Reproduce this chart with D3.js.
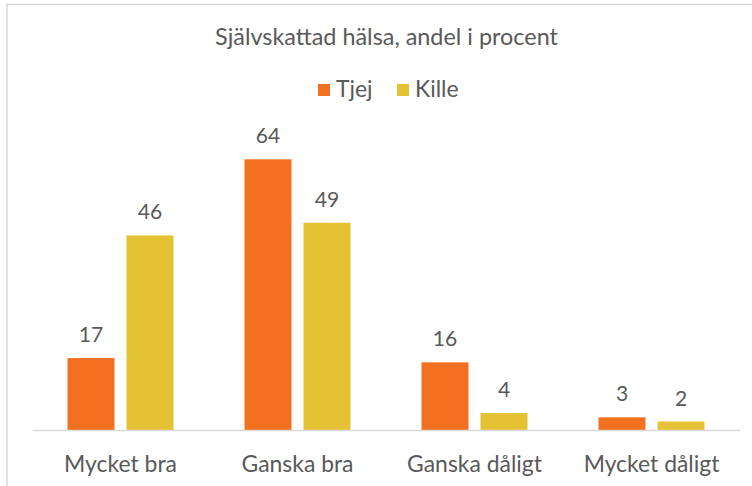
<!DOCTYPE html>
<html>
<head>
<meta charset="utf-8">
<script src="https://cdn.jsdelivr.net/npm/d3@7"></script>
<style>
  html, body { margin: 0; padding: 0; background: #fff; }
  svg { display: block; }
  text { font-family: Lato, "Open Sans", sans-serif; fill: #595959; }
</style>
</head>
<body>
<div id="chart"></div>
<script>
// data
var categories = ["Mycket bra", "Ganska bra", "Ganska dåligt", "Mycket dåligt"];
var seriesNames = ["Tjej", "Kille"];
var tjejValues = [17, 64, 16, 3];
var killeValues = [46, 49, 4, 2];
var seriesColors = ["#f37021", "#e5c134"];

var svgWidth = 752;
var svgHeight = 486;

var svg = d3.select("#chart").append("svg")
    .attr("width", svgWidth)
    .attr("height", svgHeight);

// chart border (only top and left visible in the crop)
svg.append("path")
    .attr("d", "M7,486 L7,4.5 L752,4.5")
    .attr("fill", "none")
    .attr("stroke", "#d9d9d9")
    .attr("stroke-width", 1.5);

// fit a text element to a target width by scaling its font size
function fitText(sel, target) {
    var w = sel.node().getComputedTextLength();
    var fs = parseFloat(sel.attr("font-size"));
    sel.attr("font-size", fs * target / w);
    return fs * target / w;
}

// title
var title = svg.append("text")
    .attr("x", 386.5)
    .attr("y", 45)
    .attr("text-anchor", "middle")
    .attr("font-size", 20)
    .text("Självskattad hälsa, andel i procent");
fitText(title, 343);

// scales
var x0 = d3.scaleBand()
    .domain(categories)
    .range([32, 740]);

// two bars of ~47px with a ~12px gap, centred in each 177px band
var groupWidth = 106;
var x1 = d3.scaleBand()
    .domain(seriesNames)
    .range([(x0.bandwidth() - groupWidth) / 2, (x0.bandwidth() + groupWidth) / 2])
    .paddingInner(12 / 59)
    .paddingOuter(0);

var y = d3.scaleLinear()
    .domain([0, 70])
    .range([430, 430 - 70 * 4.23]);

var rows = categories.map(function(c, i) {
    return { category: c, values: [tjejValues[i], killeValues[i]] };
});

// bars
var groups = svg.append("g").selectAll("g")
    .data(rows)
    .enter().append("g")
    .attr("transform", function(d) { return "translate(" + x0(d.category) + ",0)"; });

groups.selectAll("rect")
    .data(function(d) { return d.values.map(function(v, j) { return { name: seriesNames[j], value: v, j: j }; }); })
    .enter().append("rect")
    .attr("x", function(d) { return x1(d.name); })
    .attr("y", function(d) { return y(d.value); })
    .attr("width", x1.bandwidth())
    .attr("height", function(d) { return y(0) - y(d.value); })
    .attr("fill", function(d) { return seriesColors[d.j]; });

// data labels
var labels = groups.selectAll("text.val")
    .data(function(d) { return d.values.map(function(v, j) { return { name: seriesNames[j], value: v }; }); })
    .enter().append("text")
    .attr("class", "val")
    .attr("x", function(d) { return x1(d.name) + x1.bandwidth() / 2; })
    .attr("y", function(d) { return y(d.value) - 16; })
    .attr("text-anchor", "middle")
    .attr("font-size", 20)
    .text(function(d) { return d.value; });

var probe = labels.filter(function(d) { return d.value === 46; });
var valSize = fitText(probe, 24.5);
labels.attr("font-size", valSize);

// x axis
var xAxis = svg.append("g")
    .attr("transform", "translate(0," + y(0) + ")")
    .call(d3.axisBottom(x0).tickSize(0).tickPadding(0));
xAxis.select(".domain").attr("stroke", "#d9d9d9").attr("stroke-width", 1.5);
var tickTexts = xAxis.selectAll(".tick text")
    .attr("dy", 0)
    .attr("y", 42)
    .attr("fill", "#595959")
    .style("font-family", "Lato, 'Open Sans', sans-serif")
    .attr("font-size", 20);
var first = tickTexts.filter(function(d) { return d === "Mycket bra"; });
var catSize = fitText(first, 113);
tickTexts.attr("font-size", catSize);

// legend
var legendX = [318, 397];
var legend = svg.append("g").selectAll("g")
    .data(seriesNames)
    .enter().append("g")
    .attr("transform", function(d, i) { return "translate(" + legendX[i] + ",0)"; });
legend.append("rect")
    .attr("x", 0)
    .attr("y", 84)
    .attr("width", 12)
    .attr("height", 12)
    .attr("fill", function(d, i) { return seriesColors[i]; });
legend.append("text")
    .attr("x", 18)
    .attr("y", 97)
    .attr("font-size", catSize)
    .text(function(d) { return d; });
</script>
</body>
</html>
